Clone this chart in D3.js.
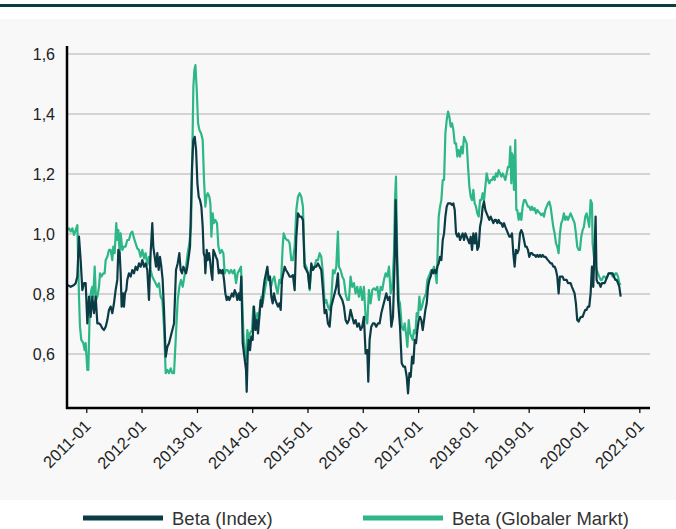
<!DOCTYPE html>
<html><head><meta charset="utf-8">
<script src="https://cdn.jsdelivr.net/npm/d3@7"></script>
<style>html,body{margin:0;padding:0;background:#fff;} svg{display:block;font-family:"Liberation Sans",Arial,sans-serif;}</style>
</head><body><svg id="c" width="676" height="529"></svg>
<script>
const seriesNames = ["Beta (Index)", "Beta (Globaler Markt)"];
const seriesColors = ["#0b3b45", "#2db686"];
const yTickValues = [0.6, 0.8, 1.0, 1.2, 1.4, 1.6];
const xTickYears = [2011, 2012, 2013, 2014, 2015, 2016, 2017, 2018, 2019, 2020, 2021];

// [decimal year, beta]
const betaIndex = [
[2010.657,0.830],[2010.718,0.824],[2010.778,0.830],[2010.808,0.836],[2010.838,0.858],[2010.868,0.991],[2010.898,0.913],[2010.929,0.813],[2010.959,0.836],[2010.989,0.836],
[2011.019,0.702],[2011.049,0.791],[2011.079,0.724],[2011.109,0.791],[2011.140,0.736],[2011.170,0.791],[2011.200,0.702],[2011.230,0.702],[2011.260,0.697],[2011.290,0.686],
[2011.320,0.680],[2011.351,0.691],[2011.381,0.713],[2011.411,0.747],[2011.441,0.758],[2011.471,0.736],[2011.501,0.769],[2011.531,0.813],[2011.561,0.847],[2011.580,0.947],
[2011.604,0.936],[2011.622,0.869],[2011.640,0.758],[2011.664,0.802],[2011.682,0.758],[2011.700,0.802],[2011.724,0.813],[2011.742,0.847],[2011.772,0.869],[2011.803,0.858],
[2011.833,0.880],[2011.863,0.869],[2011.893,0.891],[2011.923,0.880],[2011.953,0.902],[2011.983,0.891],[2012.014,0.913],[2012.044,0.891],[2012.074,0.902],[2012.104,0.880],
[2012.134,0.780],[2012.164,0.936],[2012.194,1.036],[2012.212,0.958],[2012.237,0.924],[2012.261,0.891],[2012.285,0.936],[2012.309,0.880],[2012.333,0.924],[2012.357,0.891],
[2012.381,0.847],[2012.405,0.747],[2012.436,0.591],[2012.466,0.624],[2012.496,0.636],[2012.526,0.658],[2012.556,0.680],[2012.586,0.702],
[2012.622,0.880],[2012.652,0.902],[2012.682,0.936],[2012.706,0.880],[2012.731,0.869],[2012.755,0.891],[2012.779,0.880],[2012.803,0.869],[2012.827,0.891],[2012.851,0.924],
[2012.875,0.958],[2012.893,1.091],[2012.911,1.224],[2012.935,1.313],[2012.960,1.324],[2012.984,1.280],[2013.008,1.169],[2013.032,1.124],[2013.056,1.113],[2013.080,1.091],
[2013.104,1.024],[2013.122,0.936],[2013.140,0.924],[2013.152,0.869],[2013.177,0.947],[2013.195,0.913],[2013.219,0.936],[2013.237,0.913],[2013.261,0.869],[2013.279,0.847],
[2013.297,0.947],[2013.321,0.936],[2013.345,0.924],[2013.369,0.913],[2013.394,0.869],[2013.418,0.880],[2013.442,0.869],[2013.466,0.880],[2013.490,0.847],[2013.514,0.802],
[2013.538,0.780],[2013.562,0.791],[2013.586,0.780],[2013.611,0.791],[2013.635,0.802],[2013.659,0.791],[2013.683,0.813],[2013.707,0.802],[2013.731,0.780],[2013.755,0.802],
[2013.779,0.780],[2013.803,0.858],[2013.828,0.636],[2013.858,0.591],[2013.888,0.547],[2013.900,0.474],[2013.918,0.602],[2013.936,0.647],[2013.960,0.613],[2013.984,0.658],
[2014.008,0.647],[2014.032,0.758],[2014.057,0.680],[2014.081,0.713],[2014.105,0.669],[2014.129,0.724],[2014.153,0.780],[2014.177,0.758],[2014.201,0.813],[2014.225,0.847],
[2014.250,0.869],[2014.274,0.891],[2014.298,0.847],[2014.322,0.858],[2014.346,0.791],[2014.370,0.769],[2014.394,0.802],[2014.418,0.780],[2014.442,0.769],[2014.467,0.758],
[2014.491,0.769],[2014.515,0.747],[2014.539,0.847],[2014.563,0.869],[2014.587,0.891],[2014.611,0.880],
[2014.647,0.869],[2014.677,0.858],[2014.707,0.858],[2014.737,0.863],[2014.768,0.813],[2014.798,0.991],[2014.828,1.069],[2014.858,1.058],[2014.888,1.058],[2014.918,1.047],
[2014.948,0.891],[2014.979,0.880],[2015.009,0.869],[2015.039,0.819],[2015.069,0.902],[2015.099,0.880],[2015.129,0.891],[2015.159,0.891],[2015.190,0.902],[2015.220,0.891],
[2015.250,0.880],[2015.280,0.813],[2015.310,0.736],[2015.340,0.747],[2015.370,0.702],[2015.401,0.691],[2015.431,0.758],[2015.461,0.780],[2015.491,0.802],[2015.521,0.824],
[2015.551,0.869],[2015.569,0.802],[2015.599,0.791],[2015.630,0.780],[2015.660,0.758],[2015.690,0.713],[2015.720,0.702],[2015.750,0.713],[2015.780,0.747],[2015.810,0.724],
[2015.841,0.702],[2015.871,0.713],[2015.901,0.691],[2015.931,0.702],[2015.961,0.680],[2015.991,0.691],[2016.021,0.724],[2016.052,0.602],[2016.082,0.613],[2016.100,0.508],
[2016.124,0.647],[2016.154,0.691],[2016.184,0.702],[2016.214,0.702],[2016.244,0.691],[2016.274,0.702],[2016.305,0.702],[2016.335,0.736],[2016.365,0.758],[2016.395,0.780],
[2016.425,0.802],[2016.455,0.780],[2016.486,0.791],[2016.516,0.691],[2016.546,0.724],[2016.576,0.913],[2016.594,1.113],[2016.612,0.969],[2016.636,0.780],
[2016.673,0.691],[2016.703,0.569],[2016.733,0.558],[2016.763,0.558],[2016.794,0.524],[2016.818,0.469],[2016.842,0.536],[2016.866,0.524],[2016.890,0.591],[2016.914,0.569],
[2016.938,0.647],[2016.962,0.636],[2016.986,0.680],[2017.010,0.713],[2017.034,0.724],[2017.058,0.713],[2017.083,0.680],[2017.107,0.713],[2017.131,0.747],[2017.155,0.769],
[2017.179,0.824],[2017.203,0.847],[2017.227,0.858],[2017.252,0.880],[2017.276,0.869],[2017.300,0.880],[2017.324,0.869],[2017.348,0.891],[2017.372,0.902],[2017.396,0.924],
[2017.420,0.913],[2017.445,0.980],[2017.469,1.002],[2017.493,1.058],[2017.517,1.091],[2017.541,1.102],[2017.565,1.102],[2017.589,1.102],[2017.613,1.097],[2017.637,1.102],
[2017.662,1.080],[2017.686,1.002],[2017.710,0.991],[2017.734,1.002],[2017.758,0.980],[2017.782,0.991],[2017.806,1.002],[2017.830,0.980],[2017.854,1.002],[2017.879,0.991],
[2017.903,0.980],[2017.927,0.969],[2017.951,0.991],[2017.975,0.947],[2017.999,1.002],[2018.023,0.969],[2018.047,1.002],[2018.071,0.947],[2018.096,0.958],[2018.120,1.024],
[2018.144,1.047],[2018.168,1.091],[2018.192,1.108],[2018.216,1.080],[2018.240,1.069],[2018.264,1.058],[2018.288,1.047],[2018.313,1.058],[2018.337,1.047],[2018.361,1.036],
[2018.385,1.047],[2018.409,1.047],[2018.433,1.036],[2018.457,1.047],[2018.481,1.036],[2018.505,1.036],[2018.530,1.024],[2018.554,1.036],[2018.578,1.024],[2018.602,1.013],
[2018.626,1.002],[2018.650,0.991],[2018.674,0.991],
[2018.698,1.002],[2018.722,0.936],[2018.746,0.891],[2018.770,0.947],[2018.794,0.936],[2018.819,0.947],[2018.843,1.002],[2018.867,1.013],[2018.891,1.002],[2018.915,0.980],
[2018.939,0.958],[2018.963,0.958],[2018.987,0.947],[2019.011,0.924],[2019.036,0.936],[2019.060,0.936],[2019.084,0.930],[2019.108,0.930],[2019.132,0.924],[2019.156,0.930],
[2019.180,0.924],[2019.204,0.930],[2019.228,0.924],[2019.253,0.930],[2019.277,0.924],[2019.301,0.924],[2019.325,0.919],[2019.349,0.913],[2019.373,0.908],[2019.397,0.902],
[2019.421,0.902],[2019.445,0.891],[2019.470,0.891],[2019.494,0.880],[2019.518,0.858],[2019.542,0.802],[2019.566,0.858],[2019.590,0.858],[2019.614,0.858],[2019.638,0.847],
[2019.662,0.847],[2019.687,0.847],[2019.711,0.836],[2019.735,0.836],[2019.759,0.836],[2019.783,0.824],[2019.807,0.813],[2019.831,0.802],[2019.855,0.769],[2019.879,0.713],
[2019.904,0.708],[2019.928,0.719],[2019.952,0.724],[2019.976,0.724],[2020.000,0.736],[2020.024,0.747],[2020.048,0.747],[2020.072,0.758],[2020.096,0.758],[2020.121,0.802],
[2020.145,0.891],[2020.169,0.824],[2020.193,0.958],[2020.211,1.058],[2020.229,0.847],[2020.253,0.836],[2020.277,0.836],[2020.301,0.824],[2020.325,0.836],[2020.350,0.836],
[2020.374,0.836],[2020.398,0.847],[2020.422,0.858],[2020.446,0.869],[2020.470,0.869],[2020.494,0.869],[2020.518,0.869],[2020.542,0.858],[2020.567,0.847],[2020.591,0.847],
[2020.615,0.836],[2020.639,0.824],[2020.663,0.791]
];

const betaMarkt = [
[2010.657,1.013],[2010.687,1.019],[2010.718,1.008],[2010.748,1.019],[2010.778,0.997],[2010.808,1.013],[2010.838,1.030],[2010.868,0.791],[2010.886,0.691],[2010.910,0.647],
[2010.947,0.636],[2010.971,0.613],[2010.989,0.636],[2011.019,0.547],[2011.037,0.547],[2011.067,0.780],[2011.091,0.813],[2011.109,0.824],[2011.127,0.791],[2011.152,0.891],
[2011.176,0.780],[2011.200,0.791],[2011.230,0.824],[2011.248,0.869],[2011.272,0.858],[2011.308,0.869],[2011.332,0.869],[2011.351,0.913],[2011.381,0.924],[2011.411,0.947],
[2011.441,0.947],[2011.471,0.913],[2011.489,0.958],[2011.513,0.936],[2011.543,1.036],[2011.561,0.980],[2011.580,1.013],[2011.604,0.936],[2011.622,1.002],[2011.652,0.947],
[2011.682,0.958],[2011.712,0.958],[2011.742,0.980],[2011.772,0.980],[2011.803,1.002],[2011.833,1.008],[2011.863,0.986],[2011.893,0.969],[2011.923,0.952],[2011.953,0.947],
[2011.983,0.924],[2012.014,0.947],[2012.044,0.919],[2012.074,0.936],[2012.104,0.897],[2012.134,0.924],[2012.164,0.880],[2012.194,0.858],[2012.224,0.847],[2012.255,0.836],
[2012.285,0.824],[2012.315,0.836],[2012.345,0.791],[2012.375,0.780],[2012.405,0.691],[2012.436,0.536],[2012.466,0.547],[2012.496,0.536],[2012.526,0.552],[2012.556,0.536],
[2012.586,0.536],
[2012.622,0.669],[2012.652,0.780],[2012.682,0.824],[2012.712,0.847],[2012.743,0.824],[2012.773,0.858],[2012.803,0.891],[2012.833,0.936],[2012.863,0.969],[2012.893,1.024],
[2012.911,1.202],[2012.935,1.491],[2012.954,1.547],[2012.972,1.563],[2012.996,1.480],[2013.020,1.369],[2013.044,1.347],[2013.074,1.336],[2013.104,1.313],[2013.128,1.180],
[2013.152,1.091],[2013.171,1.124],[2013.195,1.136],[2013.225,1.124],[2013.243,1.102],[2013.261,0.991],[2013.285,1.069],[2013.303,1.036],[2013.333,1.047],[2013.363,1.036],
[2013.388,0.958],[2013.418,0.936],[2013.448,0.947],[2013.478,0.936],[2013.502,0.869],[2013.526,0.880],[2013.556,0.880],[2013.586,0.869],[2013.617,0.880],[2013.647,0.869],
[2013.677,0.880],[2013.707,0.836],[2013.737,0.869],[2013.767,0.880],[2013.797,0.891],[2013.815,0.802],[2013.840,0.669],[2013.864,0.602],[2013.888,0.580],[2013.912,0.680],
[2013.936,0.647],[2013.960,0.669],[2013.996,0.680],[2014.020,0.758],[2014.045,0.724],[2014.069,0.702],[2014.093,0.736],[2014.117,0.713],[2014.141,0.758],[2014.165,0.791],
[2014.189,0.769],[2014.219,0.802],[2014.250,0.836],[2014.280,0.869],[2014.310,0.847],[2014.340,0.824],[2014.370,0.847],[2014.400,0.858],[2014.430,0.824],[2014.460,0.802],
[2014.491,0.847],[2014.521,0.836],[2014.551,0.958],[2014.569,1.002],[2014.599,0.986],[2014.629,0.980],
[2014.647,0.980],[2014.677,0.969],[2014.707,0.913],[2014.737,0.913],[2014.768,0.958],[2014.798,1.080],[2014.828,1.124],[2014.858,1.136],[2014.888,1.124],[2014.918,1.091],
[2014.948,0.902],[2014.979,0.891],[2015.009,0.869],[2015.039,0.813],[2015.069,0.891],[2015.099,0.880],[2015.129,0.891],[2015.159,0.913],[2015.190,0.913],[2015.220,0.936],
[2015.250,0.924],[2015.280,0.869],[2015.310,0.769],[2015.340,0.780],[2015.370,0.758],[2015.401,0.747],[2015.431,0.780],[2015.461,0.880],[2015.491,0.869],[2015.521,0.891],
[2015.551,1.008],[2015.569,0.891],[2015.599,0.880],[2015.630,0.858],[2015.660,0.847],[2015.690,0.802],[2015.720,0.780],[2015.750,0.780],[2015.780,0.858],[2015.810,0.824],
[2015.841,0.836],[2015.871,0.802],[2015.901,0.824],[2015.931,0.791],[2015.961,0.824],[2015.991,0.780],[2016.021,0.824],[2016.052,0.724],[2016.082,0.702],[2016.112,0.813],
[2016.142,0.769],[2016.172,0.813],[2016.202,0.819],[2016.232,0.813],[2016.263,0.824],[2016.293,0.780],[2016.323,0.824],[2016.353,0.813],[2016.383,0.847],[2016.413,0.869],
[2016.443,0.858],[2016.474,0.891],[2016.504,0.802],[2016.534,0.824],[2016.564,0.936],[2016.582,1.113],[2016.600,1.191],[2016.624,0.913],[2016.654,0.780],
[2016.673,0.769],[2016.703,0.691],[2016.733,0.680],[2016.757,0.702],[2016.781,0.669],[2016.806,0.624],[2016.830,0.713],[2016.854,0.669],[2016.878,0.658],[2016.902,0.647],
[2016.926,0.680],[2016.950,0.669],[2016.974,0.736],[2016.998,0.724],[2017.022,0.791],[2017.046,0.747],[2017.071,0.758],[2017.095,0.780],[2017.119,0.791],[2017.143,0.802],
[2017.167,0.847],[2017.191,0.858],[2017.215,0.869],[2017.239,0.880],[2017.264,0.880],[2017.288,0.891],[2017.312,0.869],[2017.336,0.836],[2017.360,0.991],[2017.372,1.058],
[2017.396,1.091],[2017.420,1.113],[2017.445,1.180],[2017.469,1.180],[2017.493,1.336],[2017.517,1.380],[2017.541,1.408],[2017.565,1.391],[2017.589,1.358],[2017.613,1.369],
[2017.637,1.347],[2017.662,1.302],[2017.686,1.302],[2017.710,1.258],[2017.734,1.280],[2017.758,1.258],[2017.782,1.291],[2017.806,1.269],[2017.830,1.324],[2017.854,1.313],
[2017.879,1.302],[2017.903,1.224],[2017.927,1.158],[2017.951,1.124],[2017.975,1.113],[2017.999,1.147],[2018.023,1.102],[2018.047,1.091],[2018.071,1.069],[2018.096,1.058],
[2018.120,1.113],[2018.144,1.113],[2018.168,1.136],[2018.192,1.113],[2018.216,1.158],[2018.240,1.202],[2018.264,1.180],[2018.288,1.169],[2018.313,1.180],[2018.337,1.180],
[2018.361,1.191],[2018.385,1.180],[2018.409,1.202],[2018.433,1.191],[2018.457,1.213],[2018.481,1.202],[2018.505,1.191],[2018.530,1.202],[2018.554,1.191],[2018.578,1.180],
[2018.602,1.202],[2018.626,1.224],[2018.650,1.224],[2018.668,1.291],[2018.686,1.169],
[2018.698,1.269],[2018.716,1.258],[2018.734,1.147],[2018.758,1.313],[2018.776,1.080],[2018.794,1.080],[2018.819,1.047],[2018.843,1.069],[2018.867,1.047],[2018.891,1.091],
[2018.915,1.113],[2018.939,1.113],[2018.963,1.102],[2018.987,1.091],[2019.011,1.091],[2019.036,1.080],[2019.060,1.091],[2019.084,1.080],[2019.108,1.086],[2019.132,1.069],
[2019.156,1.080],[2019.180,1.074],[2019.204,1.069],[2019.228,1.063],[2019.253,1.069],[2019.277,1.058],[2019.301,1.080],[2019.325,1.091],[2019.349,1.102],[2019.373,1.108],
[2019.397,1.091],[2019.421,1.058],[2019.445,1.024],[2019.470,1.002],[2019.494,0.969],[2019.518,0.958],[2019.542,0.936],[2019.566,1.002],[2019.590,1.036],[2019.614,1.047],
[2019.638,1.069],[2019.662,1.047],[2019.687,1.058],[2019.711,1.047],[2019.735,1.058],[2019.759,1.069],[2019.783,1.058],[2019.807,1.047],[2019.831,1.036],[2019.855,1.002],
[2019.879,0.958],[2019.904,0.947],[2019.928,0.947],[2019.952,0.991],[2019.976,1.013],[2020.000,1.024],[2020.024,1.058],[2020.048,1.069],[2020.072,1.047],[2020.096,1.024],
[2020.121,1.113],[2020.145,1.102],[2020.157,0.969],[2020.181,0.924],[2020.205,0.902],[2020.229,0.880],[2020.253,0.869],[2020.277,0.858],[2020.301,0.847],[2020.325,0.847],
[2020.350,0.858],[2020.374,0.858],[2020.398,0.852],[2020.422,0.858],[2020.446,0.869],[2020.470,0.869],[2020.494,0.869],[2020.518,0.858],[2020.542,0.858],[2020.567,0.869],
[2020.591,0.869],[2020.615,0.858],[2020.639,0.836],[2020.663,0.830]
];

function toDate(yv) {
  const yr = Math.floor(yv);
  const a = Date.UTC(yr, 0, 1), b = Date.UTC(yr + 1, 0, 1);
  return new Date(a + (yv - yr) * (b - a));
}

const W = 676, H = 529;
const plot = {left: 67, right: 650, top: 46, bottom: 408};
const svg = d3.select("#c");

svg.append("rect").attr("x", 0).attr("y", 4).attr("width", W).attr("height", 3).attr("fill", "#0d3c47");
svg.append("rect").attr("x", 0).attr("y", 19).attr("width", W).attr("height", 481).attr("fill", "#f8f8f8");

const x = d3.scaleUtc().domain([toDate(2010.651), toDate(2021.193)]).range([plot.left, plot.right]);
const y = d3.scaleLinear().domain([0.42, 1.6267]).range([plot.bottom, plot.top]);

// gridlines
svg.append("g").selectAll("line").data(yTickValues).join("line")
  .attr("x1", plot.left).attr("x2", plot.right)
  .attr("y1", d => y(d)).attr("y2", d => y(d))
  .attr("stroke", "#c8c8c8").attr("stroke-width", 1.5);

// y labels
svg.append("g").selectAll("text").data(yTickValues).join("text")
  .attr("x", 55).attr("y", d => y(d) + 6)
  .attr("text-anchor", "end").attr("font-size", 16).attr("fill", "#222")
  .text(d => d3.format(".1f")(d).replace(".", ","));

// lines
const line = d3.line().x(d => x(toDate(d[0]))).y(d => y(d[1]));
svg.append("path").datum(betaMarkt).attr("d", line)
  .attr("fill", "none").attr("stroke", seriesColors[1]).attr("stroke-width", 2.2).attr("stroke-linejoin", "round");
svg.append("path").datum(betaIndex).attr("d", line)
  .attr("fill", "none").attr("stroke", seriesColors[0]).attr("stroke-width", 2.2).attr("stroke-linejoin", "round");

// x axis
const xAxis = d3.axisBottom(x)
  .tickValues(xTickYears.map(v => toDate(v)))
  .tickSize(5).tickFormat(d3.utcFormat("%Y-%m"));
const gx = svg.append("g").attr("transform", `translate(0,${plot.bottom})`).call(xAxis);
gx.select(".domain").remove();
gx.selectAll(".tick line").attr("stroke", "#000").attr("stroke-width", 1.2);
gx.selectAll(".tick text")
  .attr("font-size", 16.5).attr("font-family", '"Liberation Sans",Arial,sans-serif').attr("fill", "#222")
  .attr("text-anchor", "end").attr("x", 0).attr("y", 0).attr("dy", "0.35em")
  .attr("transform", "translate(1,15) rotate(-45)");

// axis lines
svg.append("line").attr("x1", plot.left).attr("x2", plot.left).attr("y1", plot.top).attr("y2", plot.bottom + 1)
  .attr("stroke", "#000").attr("stroke-width", 2.5);
svg.append("line").attr("x1", plot.left - 1).attr("x2", plot.right).attr("y1", plot.bottom).attr("y2", plot.bottom)
  .attr("stroke", "#000").attr("stroke-width", 2.5);

// legend
const legendX = [83, 363];
const lg = svg.append("g").selectAll("g").data(seriesNames).join("g")
  .attr("transform", (d, i) => `translate(${legendX[i]},518)`);
lg.append("line").attr("x1", 0).attr("x2", 80).attr("y1", 0).attr("y2", 0)
  .attr("stroke", (d, i) => seriesColors[i]).attr("stroke-width", 5);
lg.append("text").attr("x", 89).attr("y", 6.5).attr("font-size", 18.5).attr("fill", "#333").text(d => d);
</script></body></html>
